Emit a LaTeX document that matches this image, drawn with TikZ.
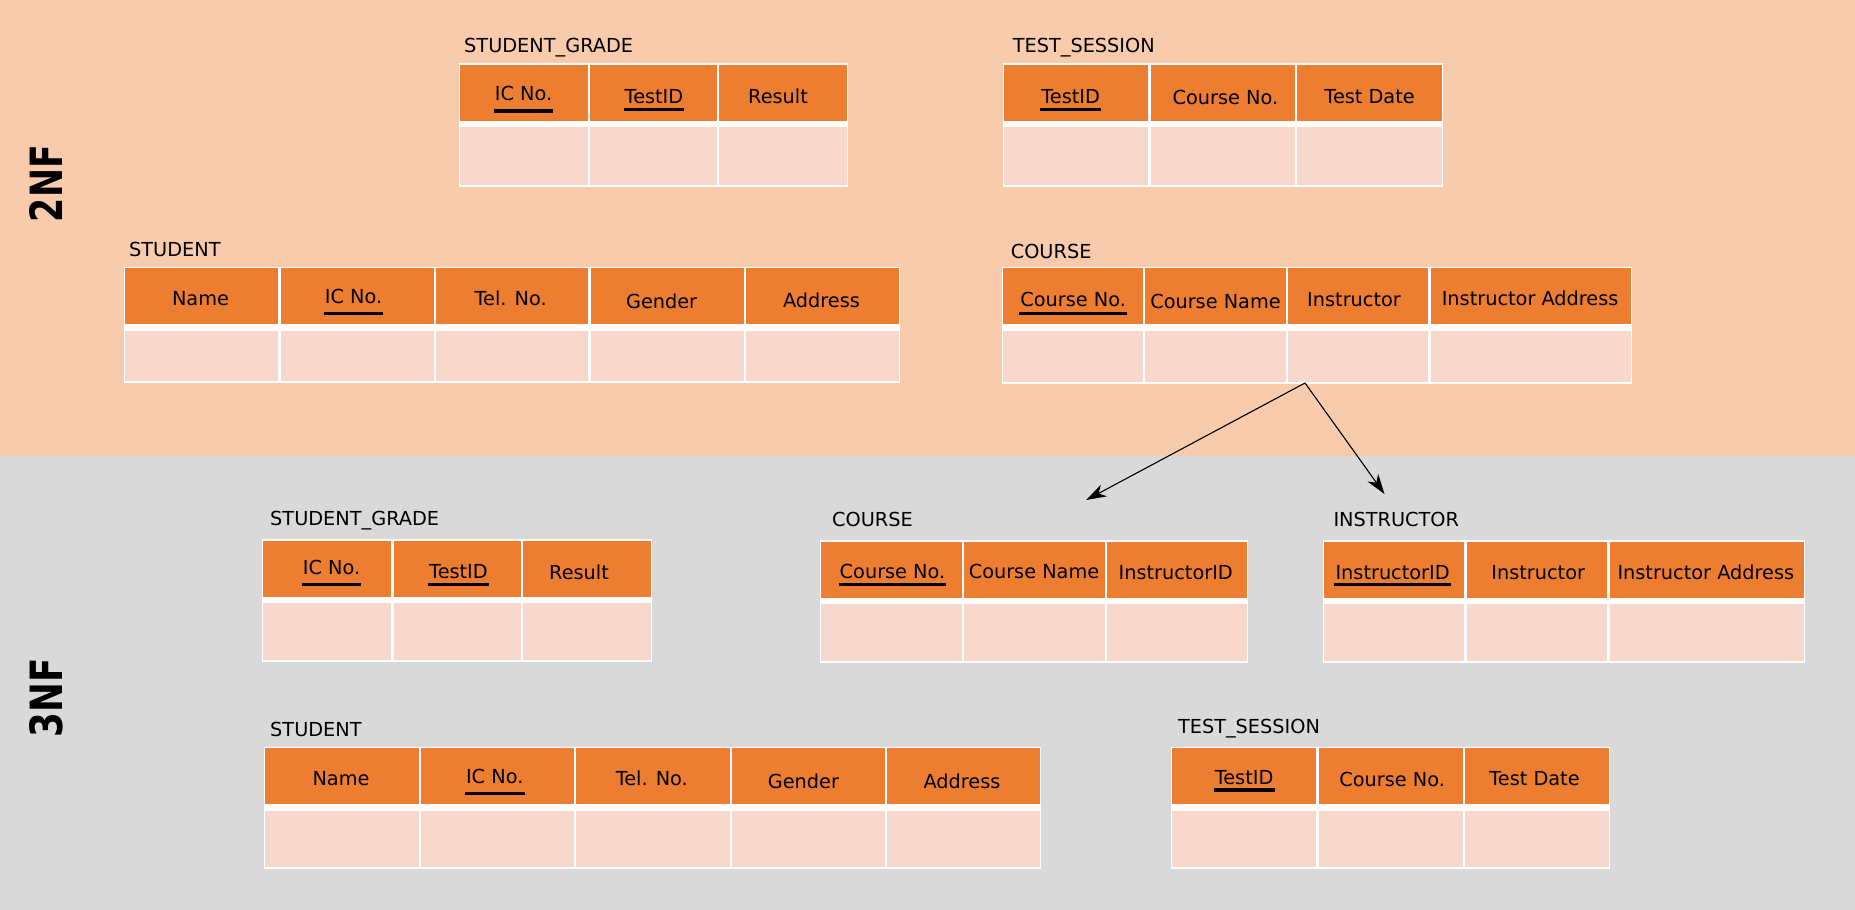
\documentclass[tikz,border=0pt]{standalone}
\usepackage{fontspec}
\usepackage{graphicx}
\setmainfont{DejaVu Sans}
\usetikzlibrary{arrows.meta}
\definecolor{topbg}{HTML}{F8CBAD}
\definecolor{botbg}{HTML}{D9D9D9}
\definecolor{hdr}{HTML}{ED7D31}
\definecolor{bdy}{HTML}{F8D8CC}
\tikzset{
  celltext/.style={inner sep=0pt, font=\fontsize{19.3}{23}\selectfont, text=black},
  tabletitle/.style={inner sep=0pt, anchor=base west, font=\fontsize{19.3}{23}\selectfont, text=black},
  keyline/.style={line width=3.2pt, black, shorten <=-1pt, shorten >=-1pt},
  nflabel/.style={inner sep=0pt, rotate=90, text=black},
  splitarrow/.style={-{Stealth[length=20pt,width=13pt,inset=6pt]}, line width=1.1pt, black},
}
% #1 id, #2 x0, #3 x1, #4 y0, #5 y1, #6 title x, #7 title baseline, #8 title, #9 cells x0/x1/textx/text/baseline/underline-y
\newcommand\dbtable[9]{%
  \fill[white] (#2,#4) rectangle (#3,#5);
  \node[tabletitle] (#1-title) at (#6,#7) {#8};
  \foreach \cxa/\cxb/\ctx/\ctxt/\cbase/\cul [count=\ci] in {#9}{%
    \fill[hdr] (\cxa+1.2,#4+1.6) rectangle (\cxb-1.2,#4+57.5);
    \fill[bdy] (\cxa+1.2,#4+64) rectangle (\cxb-1.2,#5-2.2);
    \node[celltext, anchor=base] (#1-\ci) at (\ctx,\cbase) {\ctxt};
    \ifdim\cul pt>1pt
      \draw[keyline] (#1-\ci.west |- 0,\cul) -- (#1-\ci.east |- 0,\cul);
    \fi
  }%
}
\begin{document}
\begin{tikzpicture}[x=1pt,y=-1pt]
\useasboundingbox (0,0) rectangle (1855,910);
\fill[topbg] (0,0) rectangle (1855,456);
\fill[botbg] (0,456) rectangle (1855,910);

\node[nflabel] (lbl2nf) at (46,183.5) {\resizebox{77pt}{33pt}{\bfseries 2NF}};
\node[nflabel] (lbl3nf) at (46,697.5) {\resizebox{79pt}{33pt}{\bfseries 3NF}};

% 2NF
\dbtable{sgA}{459}{848}{63.3}{186.7}{464}{52}{STUDENT\_GRADE}{
  459/589/523.5/IC No./100/111, 589/718/654/TestID/103/109.5, 718/848/778/Result/103/0}
\dbtable{tsA}{1002.6}{1443.2}{63.3}{186.7}{1012.6}{52}{TEST\_SESSION}{
  1002.6/1149.4/1070.7/TestID/103/109.5, 1149.4/1296/1225.4/Course No./104/0, 1296/1443.2/1369.6/Test Date/103/0}
\dbtable{stA}{124}{900}{266.7}{383.3}{129}{256}{STUDENT}{
  124/279.4/200.5/Name/305/0, 279.4/434.8/353.5/IC No./303/313.3, 434.8/589.6/510.7/Tel. No./305/0, 589.6/745/661.6/Gender/308/0, 745/900/821.5/Address/307/0}
\dbtable{coA}{1001.6}{1632.2}{266.7}{384}{1010.6}{258}{COURSE}{
  1001.6/1143.8/1073.2/Course No./306.7/313.3, 1143.8/1287/1215.5/Course Name/308/0, 1287/1429.3/1354/Instructor/306/0, 1429.3/1632.2/1530.1/Instructor Address/305/0}

% 3NF
\dbtable{sgB}{262}{652.4}{539.3}{662.3}{270}{525}{STUDENT\_GRADE}{
  262/392.6/331.5/IC No./574/584.3, 392.6/522/458.5/TestID/578.3/584.3, 522/652.4/579/Result/579/0}
\dbtable{coB}{820}{1248.3}{540}{663}{832}{526.7}{COURSE}{
  820/962.8/892.5/Course No./578.3/584.3, 962.8/1105.8/1034/Course Name/578/0, 1105.8/1248.3/1175.7/InstructorID/579/0}
\dbtable{inB}{1322.9}{1805.3}{540}{663}{1333.3}{526.7}{INSTRUCTOR}{
  1322.9/1465.6/1392.6/InstructorID/579/584.3, 1465.6/1608.3/1538.2/Instructor/579/0, 1608.3/1805.3/1705.8/Instructor Address/579/0}
\dbtable{stB}{263.5}{1040.9}{746.7}{869.3}{270}{736.7}{STUDENT}{
  263.5/420/341/Name/785/0, 420/575/494.7/IC No./783.3/793.3, 575/730.7/651.8/Tel. No./785/0, 730.7/886/803.4/Gender/788/0, 886/1040.9/962/Address/788/0}
\dbtable{tsB}{1170.7}{1610.3}{746.7}{869.3}{1177.8}{733.3}{TEST\_SESSION}{
  1170.7/1317.6/1244.1/TestID/784.3/790, 1317.6/1463.9/1392.1/Course No./786.7/0, 1463.9/1610.3/1534.5/Test Date/785/0}

% decomposition arrows
\coordinate (fork) at (1305,383);
\coordinate (toCourse) at (1086.2,500);
\coordinate (toInstr) at (1384.5,494);
\draw[splitarrow] (fork) -- (toCourse);
\draw[splitarrow] (fork) -- (toInstr);
\end{tikzpicture}
\end{document}
